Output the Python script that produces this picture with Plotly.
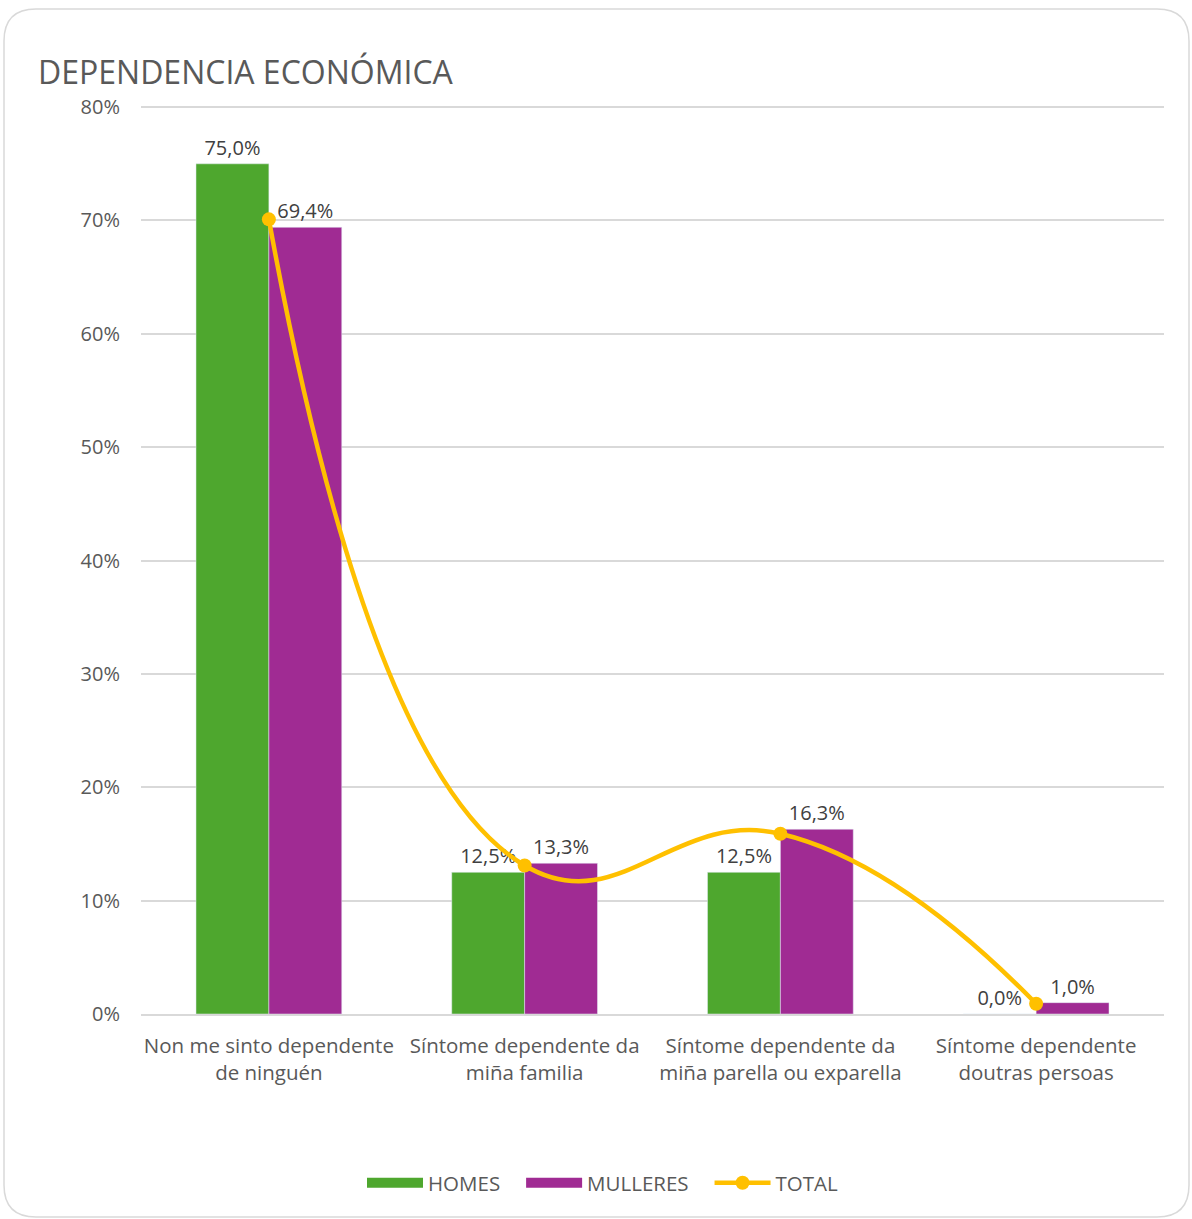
import plotly.graph_objects as go

categories = ["Non me sinto dependente<br>de ninguén",
              "Síntome dependente da<br>miña familia",
              "Síntome dependente da<br>miña parella ou exparella",
              "Síntome dependente<br>doutras persoas"]
homes = [75.0, 12.5, 12.5, 0.0]
mulleres = [69.4, 13.3, 16.3, 1.0]
total = [70.1, 13.1, 15.9, 0.9]
y_ticks = [0, 10, 20, 30, 40, 50, 60, 70, 80]
y_tick_text = ["0%", "10%", "20%", "30%", "40%", "50%", "60%", "70%", "80%"]

W, H = 1192, 1219
L, R, T, B = 141, 28, 106, 205
PW, PH = W - L - R, H - T - B

GREEN = "#4EA72E"
PURPLE = "#A02B93"
GOLD = "#FFC000"
TXT = "#595959"
LBL = "#404040"
FONT = "Open Sans"
NB = "\u00a0"

def fmt(v):
    return f"{v:.1f}".replace(".", ",") + "%"

fig = go.Figure()
fig.add_trace(go.Bar(x=categories, y=homes, name="HOMES", marker_color=GREEN,
                     text=[fmt(v) for v in homes], textposition="outside",
                     textfont=dict(size=20, color=LBL, family=FONT),
                     cliponaxis=False, showlegend=False))
fig.add_trace(go.Bar(x=categories, y=mulleres, name="MULLERES", marker_color=PURPLE,
                     text=[fmt(v) for v in mulleres], textposition="outside",
                     textfont=dict(size=20, color=LBL, family=FONT),
                     cliponaxis=False, showlegend=False))
fig.add_trace(go.Scatter(x=categories, y=total, name="TOTAL", mode="lines+markers",
                         line=dict(color=GOLD, width=4.5, shape="spline", smoothing=1.3),
                         marker=dict(color=GOLD, size=14), cliponaxis=False,
                         showlegend=False))
# legend entries (wide rectangles like the original legend)
fig.add_trace(go.Scatter(x=[None], y=[None], mode="lines", name="HOMES" + NB * 3,
                         line=dict(color=GREEN, width=14)))
fig.add_trace(go.Scatter(x=[None], y=[None], mode="lines", name="MULLERES" + NB * 3,
                         line=dict(color=PURPLE, width=14)))
fig.add_trace(go.Scatter(x=[None], y=[None], mode="lines+markers", name="TOTAL",
                         line=dict(color=GOLD, width=4.5), marker=dict(color=GOLD, size=14)))

def px_x(x):
    return (x - L) / PW

def px_y(y):
    return (H - B - y) / PH

# rounded border around the chart
x0, x1, y0, y1, r = 4, 1189, 9, 1217, 32
path = (f"M {px_x(x0 + r)},{px_y(y0)} L {px_x(x1 - r)},{px_y(y0)} "
        f"Q {px_x(x1)},{px_y(y0)} {px_x(x1)},{px_y(y0 + r)} "
        f"L {px_x(x1)},{px_y(y1 - r)} Q {px_x(x1)},{px_y(y1)} {px_x(x1 - r)},{px_y(y1)} "
        f"L {px_x(x0 + r)},{px_y(y1)} Q {px_x(x0)},{px_y(y1)} {px_x(x0)},{px_y(y1 - r)} "
        f"L {px_x(x0)},{px_y(y0 + r)} Q {px_x(x0)},{px_y(y0)} {px_x(x0 + r)},{px_y(y0)} Z")

fig.update_layout(
    width=W, height=H,
    margin=dict(l=L, r=R, t=T, b=B, autoexpand=False),
    paper_bgcolor="white", plot_bgcolor="white",
    barmode="group", bargap=0.43, bargroupgap=0,
    font=dict(family=FONT, color=TXT, size=20),
    title=dict(text="DEPENDENCIA ECONÓMICA", xref="container", yref="container",
               x=38 / W, xanchor="left", y=1 - 62 / H, yanchor="top",
               font=dict(size=32, color=TXT, family=FONT)),
    xaxis=dict(showline=True, linecolor="#d9d9d9", linewidth=1.5, ticks="",
               tickfont=dict(size=20.5, color=TXT), showgrid=False,
               ticklabelstandoff=13),
    yaxis=dict(range=[0, 80.1], tickvals=y_ticks, ticktext=y_tick_text, showgrid=True,
               gridcolor="#d9d9d9", gridwidth=1.5, zeroline=False, showline=False,
               tickfont=dict(size=20, color=TXT), ticklabelstandoff=20),
    legend=dict(orientation="h", x=px_x(603), xanchor="center",
                y=-0.186, yanchor="middle",
                font=dict(size=20.5, color=TXT), traceorder="normal",
                itemwidth=56),
    shapes=[dict(type="path", path=path, xref="paper", yref="paper",
                 line=dict(color="#d9d9d9", width=1.5), layer="below")],
)

fig.write_html("out.html", config={"displayModeBar": False},
               post_script="document.body.style.margin='0';")
